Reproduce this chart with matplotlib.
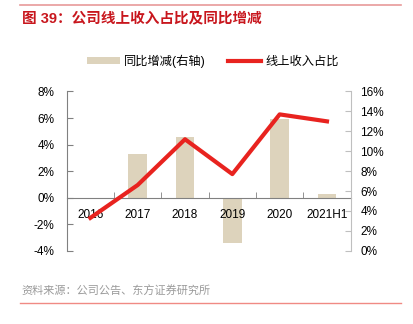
import numpy as np
import matplotlib.pyplot as plt
from matplotlib.ticker import FuncFormatter

plt.rcParams['font.family'] = ['Liberation Sans', 'Noto Sans CJK SC']

categories = ['2016', '2017', '2018', '2019', '2020', '2021H1']
yoy_change = [0.0, 3.3, 4.6, -3.4, 5.9, 0.3]       # 同比增减, %
online_share = [3.3, 6.6, 11.2, 7.7, 13.7, 13.0]   # 线上收入占比, %

bar_color = '#DDD3BC'
line_color = '#E8231F'

fig = plt.figure(figsize=(4.13, 3.24), dpi=100)
ax = fig.add_axes([0.1615, 0.2262, 0.6875, 0.4914])
x = np.arange(len(categories))

ax.bar(x, yoy_change, width=0.39, color=bar_color, zorder=2, label='同比增减(右轴)')
ax.set_axisbelow(False)  # tick labels drawn over the bars
ax.set_xlim(-0.5, len(categories) - 0.5)
ax.set_ylim(-4, 8)
ax.set_yticks(np.arange(-4, 9, 2))
ax.yaxis.set_major_formatter(FuncFormatter(lambda v, p: f'{v:.0f}%'))

# x axis sits on zero, small ticks between categories pointing up
ax.spines['top'].set_visible(False)
ax.spines['right'].set_visible(False)
ax.spines['bottom'].set_position(('data', 0))
ax.spines['bottom'].set_color('#808080')
ax.spines['left'].set_color('#808080')
ax.set_xticks(x)
ax.set_xticklabels(categories)
ax.set_xticks(x[:-1] + 0.5, minor=True)
ax.tick_params(axis='x', which='major', length=0, pad=8, labelsize=8.5)
ax.tick_params(axis='x', which='minor', direction='in', length=4, color='#808080')
ax.tick_params(axis='y', direction='in', length=4, color='#808080', pad=9, labelsize=8.5)

ax2 = ax.twinx()
ax2.plot(x, online_share, color=line_color, lw=3, label='线上收入占比', zorder=3)
ax2.set_ylim(0, 16)
ax2.set_yticks(np.arange(0, 17, 2))
ax2.yaxis.set_major_formatter(FuncFormatter(lambda v, p: f'{v:.0f}%'))
for s in ['top', 'left', 'bottom']:
    ax2.spines[s].set_visible(False)
ax2.spines['right'].set_color('#BFBFBF')
ax2.tick_params(axis='y', direction='in', length=4, color='#BFBFBF', pad=7, labelsize=8.5)

# legend
h1, l1 = ax.get_legend_handles_labels()
h2, l2 = ax2.get_legend_handles_labels()
fig.legend(h1 + h2, l1 + l2, loc='center', bbox_to_anchor=(0.515, 0.812), ncol=2,
           frameon=False, fontsize=8.8, handlelength=2.7, handleheight=0.5,
           columnspacing=1.9, handletextpad=0.3)

# header / footer
fig.add_artist(plt.Line2D([0.048, 0.97], [1 - 5 / 324] * 2, color='#E89A9A', lw=1.2))
fig.text(0.053, 1 - 18 / 324, '图 39：公司线上收入占比及同比增减', color='#C8161D',
         fontsize=10.5, fontweight='bold', va='center')
fig.text(0.053, 1 - 291.5 / 324, '资料来源：公司公告、东方证券研究所', color='#9A9A9A',
         fontsize=8, va='center')
fig.add_artist(plt.Line2D([0.048, 0.97], [1 - 302.5 / 324] * 2, color='#F08A84', lw=1))

fig.savefig('out.png', dpi=100)
